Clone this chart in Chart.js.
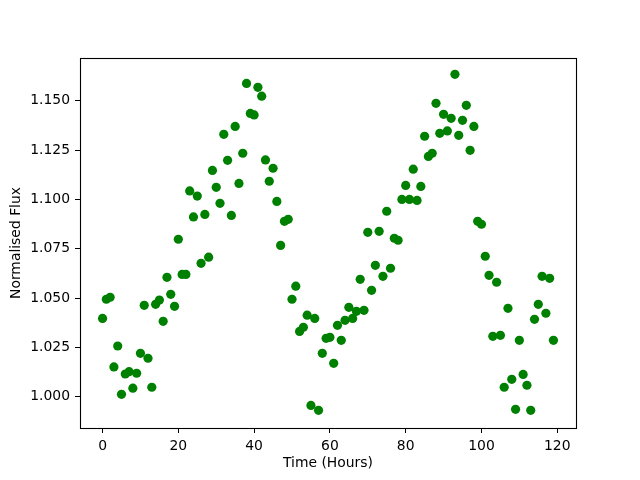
<!DOCTYPE html>
<html>
<head>
<meta charset="utf-8">
<script src="https://cdn.jsdelivr.net/npm/chart.js@4"></script>
<style>
  html, body { margin: 0; padding: 0; background: #fff; }
  #wrap { width: 640px; height: 480px; }
</style>
</head>
<body>
<div id="wrap"><canvas id="fluxChart" width="640" height="480"></canvas></div>
<script>
// data ------------------------------------------------------------

// observation times (hours)
const hours = [];
for (let h = 0; h < 120; h++) hours.push(h);

// normalised flux, one per hour
const flux = [
  1.0397, 1.0494, 1.0504, 1.0151, 1.0257, 1.0012, 1.0115, 1.0127, 1.0043, 1.0119,
  1.0220, 1.0463, 1.0195, 1.0048, 1.0468, 1.0490, 1.0382, 1.0605, 1.0519, 1.0458,
  1.0798, 1.0620, 1.0620, 1.1043, 1.0911, 1.1017, 1.0676, 1.0924, 1.0707, 1.1147,
  1.1061, 1.0980, 1.1330, 1.1198, 1.0919, 1.1370, 1.1081, 1.1234, 1.1588, 1.1436,
  1.1428, 1.1568, 1.1523, 1.1200, 1.1092, 1.1158, 1.0990, 1.0767, 1.0889, 1.0899,
  1.0494, 1.0560, 1.0331, 1.0352, 1.0413, 0.9956, 1.0397, 0.9931, 1.0220, 1.0296,
  1.0301, 1.0169, 1.0362, 1.0286, 1.0387, 1.0453, 1.0397, 1.0433, 1.0595, 1.0438,
  1.0833, 1.0539, 1.0666, 1.0838, 1.0610, 1.0940, 1.0651, 1.0803, 1.0793, 1.1000,
  1.1071, 1.1000, 1.1153, 1.0995, 1.1066, 1.1320, 1.1218, 1.1234, 1.1487, 1.1335,
  1.1431, 1.1347, 1.1411, 1.1634, 1.1325, 1.1401, 1.1477, 1.1249, 1.1370, 1.0889,
  1.0874, 1.0712, 1.0615, 1.0306, 1.0580, 1.0311, 1.0048, 1.0448, 1.0088, 0.9936,
  1.0286, 1.0113, 1.0058, 0.9931, 1.0392, 1.0468, 1.0610, 1.0423, 1.0600, 1.0286
];

// tick labels
const xTicks = [0, 20, 40, 60, 80, 100, 120];
const yTicks = [1.000, 1.025, 1.050, 1.075, 1.100, 1.125, 1.150];

// chart -----------------------------------------------------------

const points = hours.map((h, i) => ({ x: h, y: flux[i] }));

const font = { family: 'DejaVu Sans', size: 13.9 };

// black box round the plot area, like matplotlib spines
const frame = {
  id: 'frame',
  afterDraw(chart) {
    const { ctx, chartArea: a } = chart;
    ctx.save();
    ctx.strokeStyle = '#000';
    ctx.lineWidth = 1.1;
    ctx.strokeRect(a.left + 0.5, a.top + 0.5, a.right - a.left, a.bottom - a.top);
    ctx.restore();
  }
};

const config = {
  type: 'scatter',
  data: {
    datasets: [{
      label: 'flux',
      data: points,
      backgroundColor: '#008000',
      borderColor: '#008000',
      borderWidth: 0,
      pointRadius: 4.6,
      pointHoverRadius: 4.6
    }]
  },
  options: {
    responsive: false,
    animation: false,
    events: [],
    layout: { padding: { top: 58, right: 64, left: 0, bottom: 0 } },
    plugins: { legend: { display: false }, tooltip: { enabled: false } },
    scales: {
      x: {
        type: 'linear',
        min: -5.95,
        max: 124.95,
        afterBuildTicks: s => { s.ticks = xTicks.map(v => ({ value: v })); },
        afterFit: s => { s.height = 52; },
        grid: { drawOnChartArea: false, drawTicks: true, tickLength: 5, color: '#000' },
        border: { display: false },
        ticks: { color: '#000', font, padding: 5, maxRotation: 0, callback: v => String(v) },
        title: { display: true, text: 'Time (Hours)', color: '#000', font, padding: { top: 0, bottom: 8.7 } }
      },
      y: {
        type: 'linear',
        min: 0.98414,
        max: 1.17167,
        afterBuildTicks: s => { s.ticks = yTicks.map(v => ({ value: v })); },
        afterFit: s => { s.width = 80; },
        grid: { drawOnChartArea: false, drawTicks: true, tickLength: 5, color: '#000' },
        border: { display: false },
        ticks: { color: '#000', font, padding: 5, callback: v => v.toFixed(3) },
        title: { display: true, text: 'Normalised Flux', color: '#000', font, padding: { top: 8.4, bottom: 0 } }
      }
    }
  },
  plugins: [frame]
};

const fluxChart = new Chart(document.getElementById('fluxChart'), config);
</script>
</body>
</html>
